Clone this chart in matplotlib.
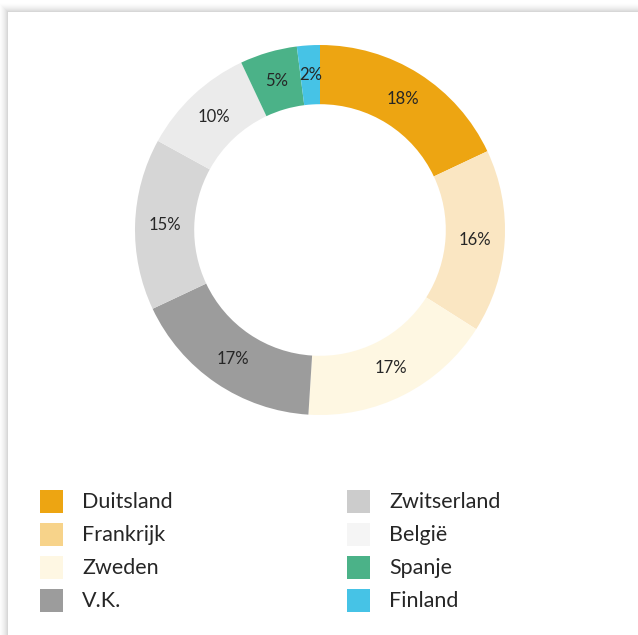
import matplotlib
matplotlib.use('Agg')
import matplotlib.pyplot as plt
from matplotlib.patches import Rectangle

# data
countries = ['Duitsland', 'Frankrijk', 'Zweden', 'V.K.', 'Zwitserland', 'België', 'Spanje', 'Finland']
shares = [18, 16, 17, 17, 15, 10, 5, 2]
ring_colors = ['#EDA512', '#FAE6C2', '#FEF7E2', '#9C9C9C', '#D6D6D6', '#EBEBEB', '#4BB288', '#46C3E6']
legend_colors = ['#EDA512', '#F7D38A', '#FEF7E3', '#9C9C9C', '#CCCCCC', '#F5F5F5', '#4BB288', '#46C3E6']

W, H = 638, 635
fig = plt.figure(figsize=(W / 100, H / 100), dpi=100)
fig.patch.set_facecolor('white')

# card shadow on the left/top edge
for i in range(10):
    a = 0.035 * (10 - i) / 10
    fig.patches.append(Rectangle(((8 - i) / W, 0), 1, (H - 12 + i) / H,
                                 transform=fig.transFigure, facecolor='black',
                                 alpha=a, edgecolor='none', zorder=0))
fig.patches.append(Rectangle((8 / W, 0), 1, (H - 12) / H, transform=fig.transFigure,
                             facecolor='white', edgecolor='none', zorder=1))

# donut
cx, cy, R = 320, 230, 185
ax = fig.add_axes([(cx - R) / W, (H - cy - R) / H, 2 * R / W, 2 * R / H])
ax.set_zorder(2)
wedges, texts, autotexts = ax.pie(shares, colors=ring_colors, startangle=90, counterclock=False,
                                  radius=1.0, autopct='%d%%', pctdistance=0.84,
                                  wedgeprops=dict(width=0.32, edgecolor='none', linewidth=0),
                                  textprops=dict(fontsize=12, color='#262626', family='Lato'))
ax.set_xlim(-1, 1)
ax.set_ylim(-1, 1)
ax.set_aspect('equal')
ax.axis('off')

# legend, two columns of four
col_x = [40, 347]
row_y = [501, 534, 567, 600]
for i, (name, col) in enumerate(zip(countries, legend_colors)):
    x0 = col_x[i // 4]
    y0 = row_y[i % 4]
    fig.patches.append(Rectangle((x0 / W, 1 - (y0 + 11.5) / H), 23 / W, 23 / H,
                                 transform=fig.transFigure, facecolor=col,
                                 edgecolor='none', zorder=3))
    fig.text((x0 + 42) / W, 1 - (y0 + 1) / H, name, fontsize=15.5, family='Lato',
             color='#262626', va='center', ha='left', zorder=3)

fig.savefig('out.png', dpi=100)
